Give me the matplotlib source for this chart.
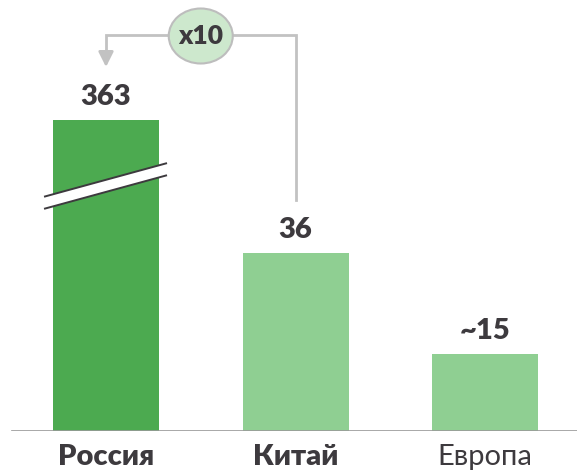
"""Столбчатая диаграмма: Россия / Китай / Европа с разрывом и стрелкой x10."""

import matplotlib
matplotlib.use("Agg")
import matplotlib.pyplot as plt
from matplotlib.patches import Ellipse, Polygon

categories = ["Россия", "Китай", "Европа"]
values = [363, 36, 15.6]
value_labels = ["363", "36", "~15"]
label_bold = [True, True, False]
ratio_label = "x10"

DARK = "#4caa50"
LIGHT = "#8fcf92"
TEXT = "#3d3a3e"
GREY = "#c2c2c2"

W, H = 577, 473
BASE_PX = 431
PX_PER_UNIT = 4.94
SPACING_PX = 189.5
FIRST_PX = 106
BREAK_CAP = 63  # высота отрисованного столбца с разрывом

plt.rcParams["font.family"] = ["Lato", "DejaVu Sans"]

fig = plt.figure(figsize=(W / 100, H / 100), dpi=100)
ax = fig.add_axes([0, (H - BASE_PX) / H, 1, BASE_PX / H])
ax.set_xlim(-FIRST_PX / SPACING_PX, (W - FIRST_PX) / SPACING_PX)
ax.set_ylim(0, BASE_PX / PX_PER_UNIT)
ax.axis("off")

x = list(range(len(categories)))
shown = [min(v, BREAK_CAP) for v in values]
colors = [DARK if v > BREAK_CAP else LIGHT for v in values]
bar_w = 106 / SPACING_PX
ax.bar(x, shown, width=bar_w, color=colors, zorder=2)

ax.axhline(0, xmin=0.02, xmax=1, color="#9a9a9a", lw=1.2, zorder=3)

label_off = 23 / PX_PER_UNIT
for xi, h, lab in zip(x, shown, value_labels):
    ax.text(xi, h + label_off, lab, ha="center", va="center",
            fontsize=21, fontweight="heavy", color=TEXT)

for xi, cat, b in zip(x, categories, label_bold):
    ax.text(xi, -34 / PX_PER_UNIT, cat, ha="center", va="baseline",
            fontsize=21, fontweight="heavy" if b else "normal", color=TEXT,
            clip_on=False)

# разрыв на первом столбце
bx0, bx1 = -0.322, 0.317
yc, slope, gap = 49.6, 6.7, 2.45
lo0, lo1 = yc - slope / 2 - gap / 2, yc + slope / 2 - gap / 2
hi0, hi1 = lo0 + gap, lo1 + gap
ax.add_patch(Polygon([[bx0, lo0], [bx1, lo1], [bx1, hi1], [bx0, hi0]],
                     closed=True, facecolor="white", edgecolor="none", zorder=4))
ax.plot([bx0, bx1], [lo0, lo1], color=TEXT, lw=1.4, zorder=5)
ax.plot([bx0, bx1], [hi0, hi1], color=TEXT, lw=1.4, zorder=5)

# соединительная стрелка Китай -> Россия
top_y = (BASE_PX - 35) / PX_PER_UNIT
start_y = (BASE_PX - 200) / PX_PER_UNIT
tip_y = (BASE_PX - 67) / PX_PER_UNIT
ax.plot([x[1], x[1], x[0], x[0]], [start_y, top_y, top_y, tip_y + 2],
        color=GREY, lw=2, zorder=2, solid_joinstyle="miter")
ax.annotate("", xy=(x[0], tip_y), xytext=(x[0], tip_y + 3.2),
            arrowprops=dict(arrowstyle="-|>,head_length=0.9,head_width=0.45",
                            color=GREY, lw=2, shrinkA=0, shrinkB=0))

ex = (x[0] + x[1]) / 2
ey = (BASE_PX - 36) / PX_PER_UNIT
ax.add_patch(Ellipse((ex, ey), 64 / SPACING_PX, 55 / PX_PER_UNIT,
                     facecolor="#cde8cd", edgecolor="#bdbdbd",
                     lw=1.5, zorder=6, clip_on=False))
ax.text(ex, ey, ratio_label, ha="center", va="center",
        fontsize=19, fontweight="heavy", color=TEXT, zorder=7)

fig.savefig("out.png", dpi=100)
